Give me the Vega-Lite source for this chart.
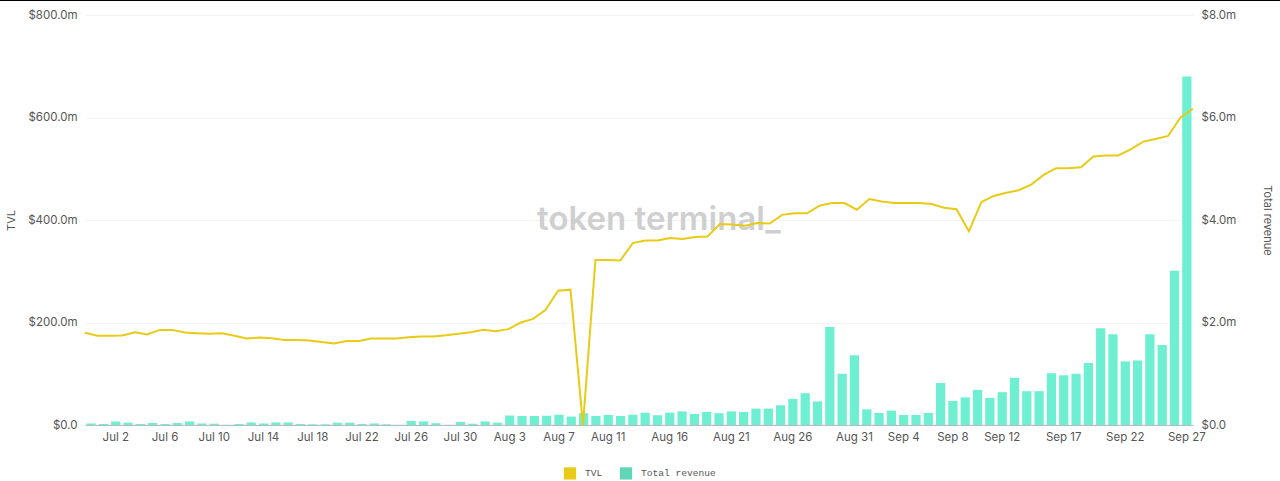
{
  "$schema": "https://vega.github.io/schema/vega-lite/v6.json",
  "width": 1108,
  "height": 410,
  "autosize": "none",
  "padding": {"left": 85, "right": 87, "top": 15, "bottom": 56},
  "background": "white",
  "config": {
    "font": "Inter",
    "view": {"stroke": null},
    "axis": {"labelColor": "#555555", "titleColor": "#555555", "labelFont": "Inter", "labelFontSize": 11.5, "titleFont": "Inter", "titleFontSize": 11, "titleFontWeight": "normal"}
  },
  "datasets": {
    "daily": [
      {"day":"Jun 30","tvl":180000000,"revenue":30000},
      {"day":"Jul 1","tvl":174000000,"revenue":20000},
      {"day":"Jul 2","tvl":174000000,"revenue":70000},
      {"day":"Jul 3","tvl":174600000,"revenue":45000},
      {"day":"Jul 4","tvl":181000000,"revenue":20000},
      {"day":"Jul 5","tvl":176500000,"revenue":40000},
      {"day":"Jul 6","tvl":185600000,"revenue":20000},
      {"day":"Jul 7","tvl":185600000,"revenue":40000},
      {"day":"Jul 8","tvl":180500000,"revenue":70000},
      {"day":"Jul 9","tvl":179000000,"revenue":30000},
      {"day":"Jul 10","tvl":178000000,"revenue":25000},
      {"day":"Jul 11","tvl":179000000,"revenue":5000},
      {"day":"Jul 12","tvl":174000000,"revenue":20000},
      {"day":"Jul 13","tvl":168700000,"revenue":50000},
      {"day":"Jul 14","tvl":170700000,"revenue":30000},
      {"day":"Jul 15","tvl":169400000,"revenue":50000},
      {"day":"Jul 16","tvl":166000000,"revenue":50000},
      {"day":"Jul 17","tvl":166000000,"revenue":20000},
      {"day":"Jul 18","tvl":165000000,"revenue":15000},
      {"day":"Jul 19","tvl":162000000,"revenue":15000},
      {"day":"Jul 20","tvl":159000000,"revenue":45000},
      {"day":"Jul 21","tvl":164000000,"revenue":45000},
      {"day":"Jul 22","tvl":164000000,"revenue":20000},
      {"day":"Jul 23","tvl":168700000,"revenue":30000},
      {"day":"Jul 24","tvl":168700000,"revenue":15000},
      {"day":"Jul 25","tvl":168700000,"revenue":5000},
      {"day":"Jul 26","tvl":171000000,"revenue":80000},
      {"day":"Jul 27","tvl":172600000,"revenue":70000},
      {"day":"Jul 28","tvl":172600000,"revenue":35000},
      {"day":"Jul 29","tvl":175000000,"revenue":5000},
      {"day":"Jul 30","tvl":178000000,"revenue":60000},
      {"day":"Jul 31","tvl":181000000,"revenue":25000},
      {"day":"Aug 1","tvl":186000000,"revenue":70000},
      {"day":"Aug 2","tvl":183000000,"revenue":45000},
      {"day":"Aug 3","tvl":187000000,"revenue":185000},
      {"day":"Aug 4","tvl":200000000,"revenue":175000},
      {"day":"Aug 5","tvl":207000000,"revenue":175000},
      {"day":"Aug 6","tvl":225000000,"revenue":180000},
      {"day":"Aug 7","tvl":262000000,"revenue":200000},
      {"day":"Aug 8","tvl":264000000,"revenue":165000},
      {"day":"Aug 9","tvl":0,"revenue":230000},
      {"day":"Aug 10","tvl":322000000,"revenue":175000},
      {"day":"Aug 11","tvl":322000000,"revenue":195000},
      {"day":"Aug 12","tvl":321000000,"revenue":175000},
      {"day":"Aug 13","tvl":355000000,"revenue":200000},
      {"day":"Aug 14","tvl":360000000,"revenue":240000},
      {"day":"Aug 15","tvl":360000000,"revenue":190000},
      {"day":"Aug 16","tvl":365000000,"revenue":240000},
      {"day":"Aug 17","tvl":363000000,"revenue":265000},
      {"day":"Aug 18","tvl":367000000,"revenue":215000},
      {"day":"Aug 19","tvl":368000000,"revenue":255000},
      {"day":"Aug 20","tvl":392000000,"revenue":230000},
      {"day":"Aug 21","tvl":391000000,"revenue":265000},
      {"day":"Aug 22","tvl":389000000,"revenue":255000},
      {"day":"Aug 23","tvl":394000000,"revenue":320000},
      {"day":"Aug 24","tvl":393000000,"revenue":320000},
      {"day":"Aug 25","tvl":410000000,"revenue":385000},
      {"day":"Aug 26","tvl":413000000,"revenue":510000},
      {"day":"Aug 27","tvl":413000000,"revenue":620000},
      {"day":"Aug 28","tvl":428000000,"revenue":460000},
      {"day":"Aug 29","tvl":433000000,"revenue":1910000},
      {"day":"Aug 30","tvl":433000000,"revenue":1000000},
      {"day":"Aug 31","tvl":420000000,"revenue":1360000},
      {"day":"Sep 1","tvl":441000000,"revenue":305000},
      {"day":"Sep 2","tvl":436000000,"revenue":235000},
      {"day":"Sep 3","tvl":433000000,"revenue":280000},
      {"day":"Sep 4","tvl":433000000,"revenue":195000},
      {"day":"Sep 5","tvl":433000000,"revenue":195000},
      {"day":"Sep 6","tvl":431000000,"revenue":235000},
      {"day":"Sep 7","tvl":424000000,"revenue":820000},
      {"day":"Sep 8","tvl":421000000,"revenue":470000},
      {"day":"Sep 9","tvl":378000000,"revenue":540000},
      {"day":"Sep 10","tvl":435000000,"revenue":685000},
      {"day":"Sep 11","tvl":447000000,"revenue":530000},
      {"day":"Sep 12","tvl":453000000,"revenue":640000},
      {"day":"Sep 13","tvl":458000000,"revenue":920000},
      {"day":"Sep 14","tvl":469000000,"revenue":660000},
      {"day":"Sep 15","tvl":488000000,"revenue":660000},
      {"day":"Sep 16","tvl":501000000,"revenue":1010000},
      {"day":"Sep 17","tvl":501000000,"revenue":970000},
      {"day":"Sep 18","tvl":503000000,"revenue":1000000},
      {"day":"Sep 19","tvl":524000000,"revenue":1210000},
      {"day":"Sep 20","tvl":526000000,"revenue":1890000},
      {"day":"Sep 21","tvl":526000000,"revenue":1770000},
      {"day":"Sep 22","tvl":538000000,"revenue":1240000},
      {"day":"Sep 23","tvl":553000000,"revenue":1260000},
      {"day":"Sep 24","tvl":558000000,"revenue":1770000},
      {"day":"Sep 25","tvl":564000000,"revenue":1560000},
      {"day":"Sep 26","tvl":600000000,"revenue":3010000},
      {"day":"Sep 27","tvl":617000000,"revenue":6800000}
    ]
  },
  "layer": [
    {
      "data": {"values": [{"label": "token terminal_"}]},
      "mark": {"type": "text", "fontSize": 33, "fontWeight": 600, "font": "Inter", "color": "#cfcfcf"},
      "encoding": {
        "x": {"datum": 0.518, "type": "quantitative", "scale": {"domain": [0, 1]}, "axis": null},
        "y": {"datum": 0.5, "type": "quantitative", "scale": {"domain": [0, 1]}, "axis": null},
        "text": {"field": "label"}
      }
    },
    {
      "data": {"name": "daily"},
      "mark": {"type": "bar", "color": "#6eefd1"},
      "encoding": {
        "x": {
          "field": "day",
          "type": "nominal",
          "sort": null,
          "scale": {"type": "band", "paddingInner": 0.25, "paddingOuter": 0.125},
          "axis": {
            "title": null,
            "labelAngle": 0,
            "ticks": false,
            "grid": false,
            "labelPadding": 6,
            "domainColor": "#bbbbbb",
            "labelOverlap": false,
            "values": ["Jul 2","Jul 6","Jul 10","Jul 14","Jul 18","Jul 22","Jul 26","Jul 30","Aug 3","Aug 7","Aug 11","Aug 16","Aug 21","Aug 26","Aug 31","Sep 4","Sep 8","Sep 12","Sep 17","Sep 22","Sep 27"]
          }
        },
        "y": {
          "field": "revenue",
          "type": "quantitative",
          "scale": {"domain": [0, 8000000], "nice": false},
          "axis": {
            "orient": "right",
            "title": "Total revenue",
            "values": [0, 2000000, 4000000, 6000000, 8000000],
            "labelExpr": "datum.value === 0 ? '$0.0' : '$' + format(datum.value / 1000000, '.1f') + 'm'",
            "ticks": false,
            "domain": false,
            "grid": false,
            "labelPadding": 8,
            "titlePadding": 26
          }
        }
      }
    },
    {
      "data": {"name": "daily"},
      "mark": {"type": "line", "color": "#e8cb17", "strokeWidth": 2, "interpolate": "linear"},
      "encoding": {
        "x": {
          "field": "day",
          "type": "nominal",
          "sort": null,
          "scale": {"type": "point", "padding": 0},
          "axis": null
        },
        "y": {
          "field": "tvl",
          "type": "quantitative",
          "scale": {"domain": [0, 800000000], "nice": false},
          "axis": {
            "orient": "left",
            "title": "TVL",
            "values": [0, 200000000, 400000000, 600000000, 800000000],
            "labelExpr": "datum.value === 0 ? '$0.0' : '$' + format(datum.value / 1000000, '.1f') + 'm'",
            "ticks": false,
            "domain": false,
            "grid": true,
            "gridColor": "#f4f4f4",
            "labelPadding": 8,
            "titlePadding": 11
          }
        }
      }
    },
    {
      "data": {"values": []},
      "mark": {"type": "square"},
      "encoding": {
        "color": {
          "field": "series",
          "type": "nominal",
          "scale": {"domain": ["TVL", "Total revenue"], "range": ["#e8cb17", "#5fd6b8"]},
          "legend": {
            "title": null,
            "orient": "none",
            "legendX": 478,
            "legendY": 451,
            "direction": "horizontal",
            "symbolType": "square",
            "symbolSize": 150,
            "symbolOpacity": 1,
            "columnPadding": 16,
            "labelOffset": 8,
            "labelFont": "Liberation Mono",
            "labelFontSize": 9.6,
            "labelColor": "#555555"
          }
        }
      }
    },
    {
      "data": {"values": [{"label": "edge"}]},
      "mark": {"type": "rule", "color": "#000000", "strokeWidth": 1.5},
      "encoding": {
        "x": {"datum": -0.08, "type": "quantitative", "scale": {"domain": [0, 1]}, "axis": null},
        "x2": {"datum": 1.08},
        "y": {"datum": 1.036, "type": "quantitative", "scale": {"domain": [0, 1]}, "axis": null}
      }
    }
  ],
  "resolve": {
    "scale": {"x": "independent", "y": "independent"},
    "axis": {"x": "independent", "y": "independent"}
  }
}
